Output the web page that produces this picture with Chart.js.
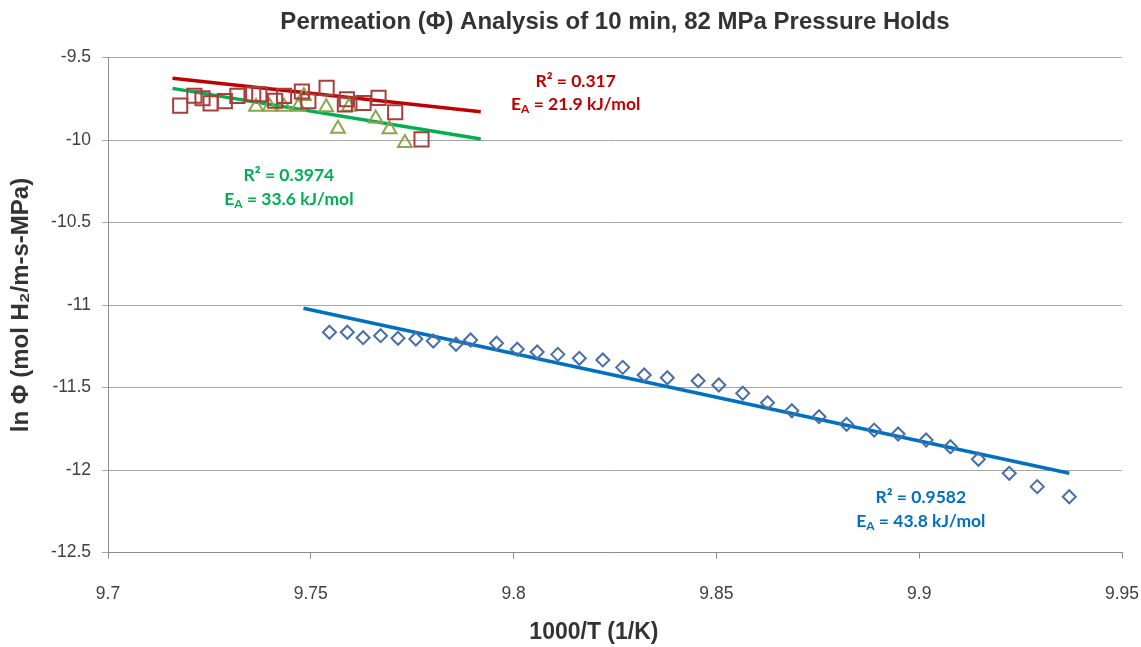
<!DOCTYPE html>
<html>
<head>
<meta charset="utf-8">
<script src="https://cdn.jsdelivr.net/npm/chart.js@4.4.0/dist/chart.umd.min.js"></script>
<style>
  html, body { margin: 0; padding: 0; background: #fff; }
  #wrap { width: 1141px; height: 647px; }
</style>
</head>
<body>
<div id="wrap"><canvas id="graficoPermeacion"></canvas></div>
<script>
// valores (1000/T, ln Phi)
var diamondX = [9.7546, 9.7590, 9.7629, 9.7672, 9.7715, 9.7759, 9.7802, 9.7858, 9.7894, 9.7958,
                9.8009, 9.8058, 9.8109, 9.8162, 9.8220, 9.8269, 9.8322, 9.8379, 9.8455, 9.8506,
                9.8565, 9.8626, 9.8686, 9.8753, 9.8821, 9.8889, 9.8948, 9.9017, 9.9077, 9.9146,
                9.9222, 9.9291, 9.9370];
var diamondY = [-11.165, -11.165, -11.198, -11.186, -11.202, -11.206, -11.218, -11.238, -11.212, -11.232,
                -11.268, -11.285, -11.299, -11.323, -11.333, -11.378, -11.424, -11.441, -11.459, -11.485,
                -11.535, -11.592, -11.641, -11.677, -11.723, -11.758, -11.782, -11.818, -11.859, -11.935,
                -12.020, -12.101, -12.162];

var squareX = [9.7178, 9.7213, 9.7233, 9.7253, 9.7288, 9.7319, 9.7358, 9.7373, 9.7412, 9.7434,
               9.7478, 9.7494, 9.7539, 9.7584, 9.7589, 9.7630, 9.7667, 9.7708, 9.7773];
var squareY = [-9.792, -9.732, -9.747, -9.778, -9.764, -9.733, -9.723, -9.723, -9.762, -9.733,
               -9.706, -9.765, -9.684, -9.784, -9.753, -9.776, -9.745, -9.832, -9.996];

var triangleX = [9.7365, 9.7399, 9.7434, 9.7469, 9.7483, 9.7538, 9.7567, 9.7594, 9.7660, 9.7694, 9.7732];
var triangleY = [-9.798, -9.798, -9.798, -9.798, -9.733, -9.802, -9.932, -9.798, -9.869, -9.935, -10.018];

// lineas de tendencia (extremos)
var blueFitX = [9.7482, 9.9370];
var blueFitY = [-11.020, -12.020];
var redFitX = [9.7159, 9.7919];
var redFitY = [-9.626, -9.829];
var greenFitX = [9.7159, 9.7919];
var greenFitY = [-9.687, -9.994];

var xTicks = [9.7, 9.75, 9.8, 9.85, 9.9, 9.95];
var yTicks = [-12.5, -12, -11.5, -11, -10.5, -10, -9.5];

var fitTexts = [
  { r2: 'R² = 0.317', ea: '21.9 kJ/mol', color: '#C00000' },
  { r2: 'R² = 0.3974', ea: '33.6 kJ/mol', color: '#00B050' },
  { r2: 'R² = 0.9582', ea: '43.8 kJ/mol', color: '#0070C0' }
];
// donde va cada texto, en unidades del grafico
var fitTextPos = [
  { x: 9.8153, y1: -9.647, y2: -9.782 },
  { x: 9.7446, y1: -10.216, y2: -10.358 },
  { x: 9.9004, y1: -12.164, y2: -12.309 }
];
var xTitleText = '1000/T (1/K)';
var xTitleAt = 9.8198;

function toPoints(xs, ys) {
  return xs.map(function (x, i) { return { x: x, y: ys[i] }; });
}

var fitTextPlugin = {
  id: 'fitTexts',
  afterDatasetsDraw: function (chart) {
    var ctx = chart.ctx;
    var sx = chart.scales.x, sy = chart.scales.y;
    var big = 'bold 17.5px Lato', small = 'bold 12px Lato';
    ctx.save();
    ctx.textBaseline = 'middle';
    fitTexts.forEach(function (t, i) {
      var p = fitTextPos[i];
      var cx = sx.getPixelForValue(p.x);
      var y1 = sy.getPixelForValue(p.y1);
      var y2 = sy.getPixelForValue(p.y2);
      ctx.fillStyle = t.color;
      ctx.font = big;
      ctx.textAlign = 'center';
      ctx.fillText(t.r2, cx, y1);
      var rest = ' = ' + t.ea;
      var wE = ctx.measureText('E').width;
      var wR = ctx.measureText(rest).width;
      ctx.font = small;
      var wA = ctx.measureText('A').width;
      var x0 = cx - (wE + wA + wR) / 2;
      ctx.textAlign = 'left';
      ctx.font = big;
      ctx.fillText('E', x0, y2);
      ctx.font = small;
      ctx.fillText('A', x0 + wE, y2 + 5);
      ctx.font = big;
      ctx.fillText(rest, x0 + wE + wA, y2);
    });
    // titulo del eje x
    ctx.fillStyle = '#333333';
    ctx.font = 'bold 23px "Liberation Sans"';
    ctx.textAlign = 'center';
    ctx.fillText(xTitleText, sx.getPixelForValue(xTitleAt), 633);
    ctx.restore();
  }
};

var ctx1 = document.getElementById('graficoPermeacion').getContext('2d');
var grafico = new Chart(ctx1, {
  type: 'scatter',
  data: {
    datasets: [
      {
        label: 'diamantes',
        data: toPoints(diamondX, diamondY),
        pointStyle: 'rectRot',
        pointRadius: 6.5,
        borderColor: '#4A6FA8',
        backgroundColor: 'rgba(0,0,0,0)',
        borderWidth: 2
      },
      {
        label: 'cuadrados',
        data: toPoints(squareX, squareY),
        pointStyle: 'rect',
        pointRadius: 10,
        borderColor: '#A83E3B',
        backgroundColor: 'rgba(0,0,0,0)',
        borderWidth: 2
      },
      {
        label: 'triangulos',
        data: toPoints(triangleX, triangleY),
        pointStyle: 'triangle',
        pointRadius: 8,
        borderColor: '#8BA64C',
        backgroundColor: 'rgba(0,0,0,0)',
        borderWidth: 2
      },
      {
        label: 'ajuste azul',
        data: toPoints(blueFitX, blueFitY),
        showLine: true,
        pointRadius: 0,
        borderColor: '#0070C0',
        borderWidth: 3.5
      },
      {
        label: 'ajuste rojo',
        data: toPoints(redFitX, redFitY),
        showLine: true,
        pointRadius: 0,
        borderColor: '#C00000',
        borderWidth: 3.5
      },
      {
        label: 'ajuste verde',
        data: toPoints(greenFitX, greenFitY),
        showLine: true,
        pointRadius: 0,
        borderColor: '#00B050',
        borderWidth: 3.5
      }
    ]
  },
  options: {
    responsive: true,
    maintainAspectRatio: false,
    animation: false,
    devicePixelRatio: 1,
    layout: { padding: { left: 0, right: 0, top: 0, bottom: 0 } },
    plugins: {
      legend: { display: false },
      tooltip: { enabled: false },
      title: {
        display: true,
        fullSize: false,
        text: 'Permeation (Φ) Analysis of 10 min, 82 MPa Pressure Holds',
        color: '#333333',
        font: { family: 'Liberation Sans', size: 24, weight: 'bold' },
        padding: { top: 8, bottom: 20.7 }
      }
    },
    scales: {
      x: {
        type: 'linear',
        min: 9.7,
        max: 9.95,
        afterFit: function (s) { s.height = 94.5; s.paddingRight = 19; s.paddingLeft = 0; },
        afterBuildTicks: function (s) { s.ticks = xTicks.map(function (v) { return { value: v }; }); },
        ticks: {
          color: '#404040',
          font: { family: 'Liberation Sans', size: 17.5 },
          padding: 25,
          maxRotation: 0,
          callback: function (v) { return String(parseFloat(v.toFixed(2))); }
        },
        grid: { drawOnChartArea: false, tickLength: 6, color: '#8C8C8C' },
        border: { color: '#8C8C8C' }
      },
      y: {
        type: 'linear',
        min: -12.5,
        max: -9.5,
        afterFit: function (s) { s.width = 108; },
        afterBuildTicks: function (s) { s.ticks = yTicks.map(function (v) { return { value: v }; }); },
        ticks: {
          color: '#404040',
          font: { family: 'Liberation Sans', size: 17.5 },
          padding: 11,
          callback: function (v) { return String(parseFloat(v.toFixed(2))); }
        },
        grid: { color: '#A6A6A6', tickLength: 6 },
        border: { color: '#8C8C8C' },
        title: {
          display: true,
          text: 'ln Φ (mol H₂/m-s-MPa)',
          color: '#333333',
          font: { family: 'Liberation Sans', size: 24, weight: 'bold' },
          padding: { top: 7, bottom: 0 }
        }
      }
    }
  },
  plugins: [fitTextPlugin]
});
</script>
</body>
</html>
